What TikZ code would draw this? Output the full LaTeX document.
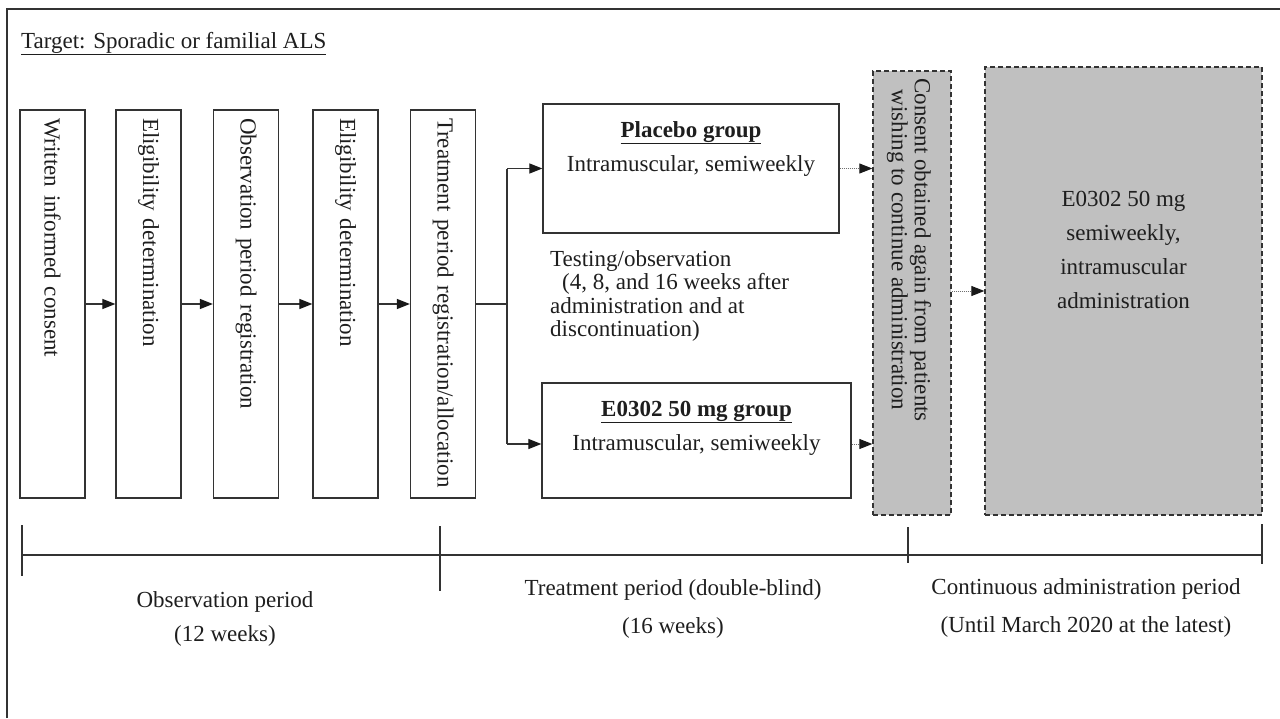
\documentclass[tikz,border=0pt]{standalone}
\usepackage{fontspec}
\setmainfont{Liberation Serif}
\usetikzlibrary{arrows.meta,calc}
\definecolor{ln}{HTML}{333333}
\definecolor{fillg}{HTML}{C0C0C0}
\definecolor{txt}{HTML}{1E1E1E}
\begin{document}
\begin{tikzpicture}[x=1pt,y=-1pt,
  every node/.style={font=\fontsize{23}{24}\selectfont, text=txt},
  vbox/.style={draw=ln, line width=1.3pt, rotate=-90, minimum width=388pt,
    minimum height=65pt, inner xsep=8pt, text width=372pt, align=left},
  gbox/.style={draw=ln, line width=1.3pt, inner sep=0pt},
  dbox/.style={draw=ln, fill=fillg, line width=1.3pt, dash pattern=on 5pt off 3pt, inner sep=0pt},
  arr/.style={draw=ln, line width=1.2pt, -{Triangle[length=13pt,width=10pt,color=black!90]}},
  dotarr/.style={draw=ln!70, line width=1pt, densely dotted, -{Triangle[length=13pt,width=10pt,color=black!90]}},
  tl/.style={draw=ln, line width=1.2pt},
]
\useasboundingbox (0,0) rectangle (1280,718);
% outer frame
\draw[tl] (7,718) -- (7,9) -- (1280,9);
\node[anchor=base west, inner sep=0pt] (title) at (21,48) {\underline{Target: Sporadic or familial ALS}};

% vertical boxes
\node[vbox] (b1) at (52.5,304) {Written informed consent};
\node[vbox] (b2) at (148.5,304) {Eligibility determination};
\node[vbox] (b3) at (246,304) {Observation period registration};
\node[vbox] (b4) at (345.5,304) {Eligibility determination};
\node[vbox] (b5) at (443,304) {Treatment period registration/allocation};
\draw[arr] (b1.north) -- (b2.south);
\draw[arr] (b2.north) -- (b3.south);
\draw[arr] (b3.north) -- (b4.south);
\draw[arr] (b4.north) -- (b5.south);

% group boxes
\node[gbox, minimum width=296pt, minimum height=129pt] (pl) at (691,168.5) {};
\node[anchor=base, inner sep=0pt] (plt) at (691,137) {\underline{\textbf{Placebo group}}};
\node[anchor=base, inner sep=0pt] (pls) at (691,171) {Intramuscular, semiweekly};
\node[gbox, minimum width=309pt, minimum height=115pt] (eg) at (696.5,440.5) {};
\node[anchor=base, inner sep=0pt] (egt) at (696.5,416) {\underline{\textbf{E0302 50 mg group}}};
\node[anchor=base, inner sep=0pt] (egs) at (696.5,450) {Intramuscular, semiweekly};

\coordinate (j) at (507,304);
\coordinate (j1) at (507,168.5);
\coordinate (j2) at (507,444);
\draw[tl] (b5.north) -- (j);
\draw[tl] (j1) -- (j2);
\draw[arr] (j1) -- (pl.west);
\draw[arr] (j2) -- (j2 -| eg.west);

\node[anchor=north west, inner sep=0pt, align=left, font=\fontsize{23}{23.5}\selectfont] (test) at (550,250)
  {Testing/observation\\\hspace*{12pt}(4, 8, and 16 weeks after\\administration and at\\discontinuation)};

% consent box
\node[dbox, minimum width=78pt, minimum height=444pt] (cb) at (912,293) {};
\node[rotate=-90, align=center, inner sep=0pt, font=\fontsize{23}{23}\selectfont] (cbt) at (909,250)
  {Consent obtained again from patients\\wishing to continue administration};

% big box
\node[dbox, minimum width=277pt, minimum height=448pt] (big) at (1123.5,291) {};
\node[align=center, inner sep=0pt, font=\fontsize{23}{34}\selectfont] (bigt) at (1123.5,250)
  {E0302 50 mg\\semiweekly,\\intramuscular\\administration};

\draw[dotarr] (pl.east) -- (pl.east -| cb.west);
\draw[dotarr] (eg.east |- j2) -- (j2 -| cb.west);
\draw[dotarr] (cb.east |- big.west) -- (big.west);

% timeline
\coordinate (t0) at (22,555);
\coordinate (t1) at (440,555);
\coordinate (t2) at (908,555);
\coordinate (t3) at (1262,555);
\draw[tl] (t0) -- (t3);
\draw[tl] (22,525) -- (22,576);
\draw[tl] (440,526) -- (440,591);
\draw[tl] (908,527) -- (908,563);
\draw[tl] (1262,524) -- (1262,564);

\node[align=center, inner sep=0pt, font=\fontsize{23}{34}\selectfont] (p1) at (225,619) {Observation period\\(12 weeks)};
\node[align=center, inner sep=0pt, font=\fontsize{23}{38}\selectfont] (p2) at (673,609) {Treatment period (double-blind)\\(16 weeks)};
\node[align=center, inner sep=0pt, font=\fontsize{23}{38}\selectfont] (p3) at (1086,608) {Continuous administration period\\(Until March 2020 at the latest)};
\end{tikzpicture}
\end{document}
